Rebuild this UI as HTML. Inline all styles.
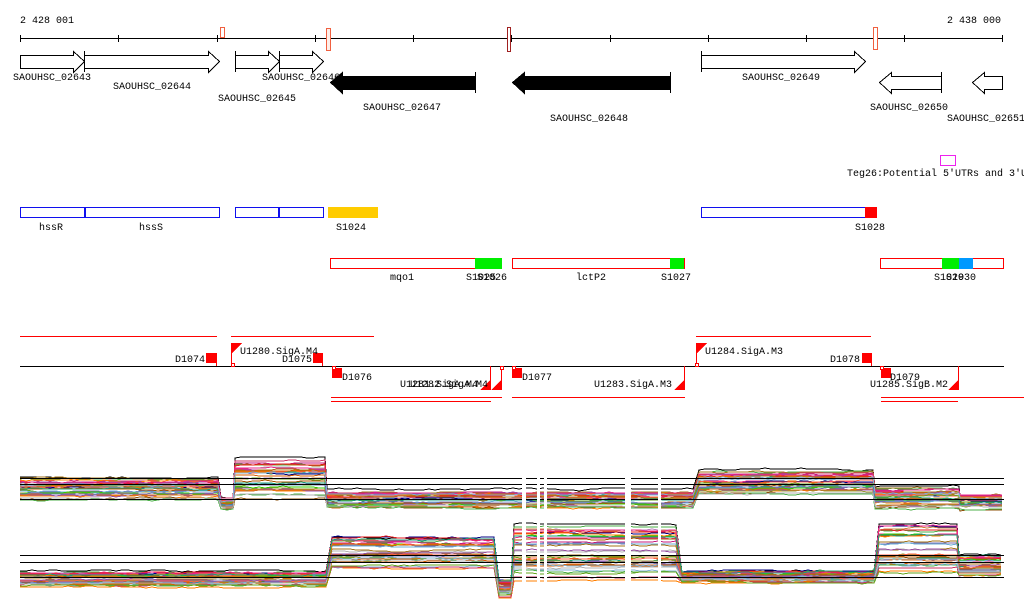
<!DOCTYPE html>
<html><head><meta charset="utf-8"><style>
html,body{margin:0;padding:0;background:#fff;}
svg{display:block;}
text{font-family:"Liberation Mono","DejaVu Sans Mono",monospace;font-size:10px;fill:#000;}
</style></head><body>
<svg id="s" width="1024" height="611" viewBox="0 0 1024 611" xmlns="http://www.w3.org/2000/svg" shape-rendering="crispEdges">
<rect width="1024" height="611" fill="#fff"/>
<text x="20" y="23">2 428 001</text>
<text x="947" y="23">2 438 000</text>
<line x1="20" y1="38.5" x2="1003" y2="38.5" stroke="#000"/>
<g stroke="#000">
<line x1="20.5" y1="35" x2="20.5" y2="42"/><line x1="118.5" y1="35" x2="118.5" y2="42"/><line x1="217.5" y1="35" x2="217.5" y2="42"/><line x1="315.5" y1="35" x2="315.5" y2="42"/><line x1="413.5" y1="35" x2="413.5" y2="42"/><line x1="511.5" y1="35" x2="511.5" y2="42"/><line x1="610.5" y1="35" x2="610.5" y2="42"/><line x1="708.5" y1="35" x2="708.5" y2="42"/><line x1="806.5" y1="35" x2="806.5" y2="42"/><line x1="904.5" y1="35" x2="904.5" y2="42"/><line x1="1002.5" y1="35" x2="1002.5" y2="42"/>
</g>
<rect x="220.5" y="27.5" width="4" height="10" fill="#fff" stroke="#f06040"/>
<rect x="326.5" y="28.5" width="4" height="22" fill="#fdeee8" stroke="#f06040"/>
<rect x="507.5" y="27.5" width="3" height="24" fill="#fff" stroke="#a02020"/>
<rect x="873.5" y="27.5" width="4" height="22" fill="#fff" stroke="#f06040"/>
<g fill="#fff" stroke="#000">
<polygon points="20.5,55.5 73.5,55.5 73.5,51.5 84.5,61.5 73.5,72.5 73.5,68.5 20.5,68.5"/>
<polygon points="84.5,55.5 208.5,55.5 208.5,51.5 219.5,61.5 208.5,72.5 208.5,68.5 84.5,68.5"/>
<line x1="84.5" y1="51" x2="84.5" y2="72"/>
<polygon points="235.5,55.5 268.5,55.5 268.5,51.5 279.5,61.5 268.5,72.5 268.5,68.5 235.5,68.5"/>
<line x1="235.5" y1="51" x2="235.5" y2="72"/>
<polygon points="279.5,55.5 312.5,55.5 312.5,51.5 323.5,61.5 312.5,72.5 312.5,68.5 279.5,68.5"/>
<line x1="279.5" y1="51" x2="279.5" y2="72"/>
<polygon points="701.5,55.5 854.5,55.5 854.5,51.5 865.5,61.5 854.5,72.5 854.5,68.5 701.5,68.5"/>
<line x1="701.5" y1="51" x2="701.5" y2="72"/>
<polygon points="941.5,76.5 891.5,76.5 891.5,72.5 879.5,82.5 891.5,93.5 891.5,89.5 941.5,89.5"/>
<line x1="941.5" y1="72" x2="941.5" y2="93"/>
<polygon points="1002.5,76.5 984.5,76.5 984.5,72.5 972.5,82.5 984.5,93.5 984.5,89.5 1002.5,89.5"/>
</g>
<g fill="#000" stroke="#000">
<polygon points="475.5,76.5 342.5,76.5 342.5,72.5 330.5,82.5 342.5,93.5 342.5,89.5 475.5,89.5"/>
<line x1="475.5" y1="72" x2="475.5" y2="93"/>
<polygon points="670.5,76.5 524.5,76.5 524.5,72.5 512.5,82.5 524.5,93.5 524.5,89.5 670.5,89.5"/>
<line x1="670.5" y1="72" x2="670.5" y2="93"/>
</g>
<text x="13" y="80">SAOUHSC_02643</text>
<text x="113" y="89">SAOUHSC_02644</text>
<text x="218" y="101">SAOUHSC_02645</text>
<text x="262" y="80">SAOUHSC_02646</text>
<text x="363" y="110">SAOUHSC_02647</text>
<text x="550" y="121">SAOUHSC_02648</text>
<text x="742" y="80">SAOUHSC_02649</text>
<text x="870" y="110">SAOUHSC_02650</text>
<text x="947" y="121">SAOUHSC_02651</text>
<rect x="940.5" y="155.5" width="15" height="10" fill="#fff" stroke="#ee22ee"/>
<text x="847" y="176">Teg26:Potential 5′UTRs and 3′U</text>
<g fill="#fff" stroke="#1010ee">
<rect x="20.5" y="207.5" width="199" height="10"/>
<rect x="235.5" y="207.5" width="88" height="10"/>
<rect x="701.5" y="207.5" width="175" height="10"/>
</g>
<rect x="84" y="207" width="2" height="11" fill="#1010ee"/>
<rect x="278" y="207" width="2" height="11" fill="#1010ee"/>
<rect x="328" y="207" width="50" height="11" fill="#ffcc00"/>
<rect x="865" y="207" width="12" height="11" fill="#ff0000"/>
<text x="39" y="230">hssR</text><text x="139" y="230">hssS</text>
<text x="336" y="230">S1024</text><text x="855" y="230">S1028</text>
<g fill="#fff" stroke="#ff0000">
<rect x="330.5" y="258.5" width="170" height="10"/>
<rect x="512.5" y="258.5" width="172" height="10"/>
<rect x="880.5" y="258.5" width="123" height="10"/>
</g>
<rect x="475" y="258" width="27" height="11" fill="#00ee00"/>
<rect x="670" y="258" width="14" height="11" fill="#00ee00"/>
<rect x="942" y="258" width="17" height="11" fill="#00ee00"/>
<rect x="959" y="258" width="14" height="11" fill="#0099ff"/>
<text x="390" y="280">mqo1</text><text x="466" y="280">S1025</text><text x="477" y="280">S1026</text>
<text x="576" y="280">lctP2</text><text x="661" y="280">S1027</text>
<text x="934" y="280">S1029</text><text x="946" y="280">S1030</text>
<g stroke="#ff0000">
<line x1="20" y1="336.5" x2="217" y2="336.5"/><line x1="231" y1="336.5" x2="374" y2="336.5"/><line x1="696" y1="336.5" x2="871" y2="336.5"/>
<line x1="331" y1="397.5" x2="502" y2="397.5"/><line x1="331" y1="401.5" x2="491" y2="401.5"/>
<line x1="512" y1="397.5" x2="685" y2="397.5"/>
<line x1="881" y1="397.5" x2="1024" y2="397.5"/><line x1="881" y1="401.5" x2="958" y2="401.5"/>
</g>
<line x1="20" y1="366.5" x2="1004" y2="366.5" stroke="#000"/>
<g fill="#ff0000" stroke="none">
<rect x="206" y="353" width="10" height="10"/><rect x="216" y="353" width="1" height="13"/>
<rect x="313" y="353" width="10" height="10"/><rect x="322" y="353" width="1" height="13"/>
<rect x="862" y="353" width="10" height="10"/><rect x="871" y="353" width="1" height="13"/>
<rect x="332" y="368" width="10" height="10"/><rect x="512" y="368" width="10" height="10"/><rect x="881" y="368" width="10" height="10"/>
<rect x="231" y="343" width="1" height="23"/><polygon points="232,343 242,343 232,353"/>
<rect x="696" y="343" width="1" height="23"/><polygon points="697,343 707,343 697,353"/>
<rect x="490" y="366" width="1" height="24"/><polygon points="490,380 490,390 480,390"/>
<rect x="501" y="366" width="1" height="24"/><polygon points="501,380 501,390 491,390"/>
<rect x="684" y="366" width="1" height="24"/><polygon points="684,380 684,390 674,390"/>
<rect x="958" y="366" width="1" height="24"/><polygon points="958,380 958,390 948,390"/>
</g>
<g fill="#fff" stroke="#ff0000">
<rect x="231.5" y="363.5" width="3" height="3"/><rect x="332.5" y="366.5" width="3" height="3"/>
<rect x="500.5" y="366.5" width="3" height="3"/><rect x="512.5" y="366.5" width="3" height="3"/>
<rect x="695.5" y="363.5" width="3" height="3"/><rect x="880.5" y="366.5" width="3" height="3"/>
</g>
<text x="175" y="362">D1074</text><text x="240" y="354">U1280.SigA.M4</text><text x="282" y="362">D1075</text>
<text x="342" y="380">D1076</text><text x="400" y="387">U1281.SigA.M4</text><text x="410" y="387">U1282.SigA.M4</text>
<text x="522" y="380">D1077</text><text x="594" y="387">U1283.SigA.M3</text>
<text x="705" y="354">U1284.SigA.M3</text><text x="830" y="362">D1078</text>
<text x="890" y="380">D1079</text><text x="870" y="387">U1285.SigB.M2</text>
<g id="plots"></g>
</svg>
<script>
(function(){
var seed=7;function R(){seed=(seed*16807)%2147483647;return (seed-1)/2147483646;}
var pal=["#e41a1c","#ff7f00","#984ea3","#4daf4a","#a6761d","#66a61e","#e7298a","#1b9e77","#7570b3","#d95f02","#80b1d3","#b3b3b3","#8c510a","#c51b7d","#999933","#6baed6","#000080","#bc80bd","#ff6347","#cd853f","#33cc00","#d2691e","#aa5500","#cc3366"];
var g=document.getElementById('plots'),NS="http://www.w3.org/2000/svg";
function el(t,a){var e=document.createElementNS(NS,t);for(var k in a)e.setAttribute(k,a[k]);g.appendChild(e);return e;}
function plot(segs,hl){
 for(var i=0;i<36;i++){
  var r=R(),c=pal[i%pal.length],pts=[],w=0;
  if(i==0){r=-0.05;c="#000";}
  for(var s=0;s<segs.length;s++){var S=segs[s];
   var rr=Math.min(1,Math.max(-0.05,r+(R()-0.5)*0.15));
   for(var x=S[0];x<=S[1];x+=6){w=w*0.85+(R()-0.5)*1.2;var y=S[2]+rr*(S[3]-S[2])+w;pts.push(x+","+y.toFixed(0));}}
  el('polyline',{points:pts.join(" "),fill:"none",stroke:c,"stroke-width":1});
 }
 hl.forEach(function(y){el('line',{x1:20,x2:1004,y1:y+.5,y2:y+.5,stroke:"#000"});});
}
plot([[20,219,477,500],[221,233,498,510],[235,325,458,500],[327,697,490,510],[699,873,470,496],[875,960,486,510],[960,1004,494,510]],[478,484,499]);
plot([[20,330,572,588],[332,497,537,570],[499,512,580,598],[514,680,527,582],[682,877,571,583],[879,957,526,576],[959,1004,555,578]],[555,562,577]);
[[522,526],[537,540],[544,547],[625,631],[658,661]].forEach(function(a){el('rect',{x:a[0],y:440,width:a[1]-a[0],height:170,fill:"#fff"});});
})();
</script>
</body></html>
